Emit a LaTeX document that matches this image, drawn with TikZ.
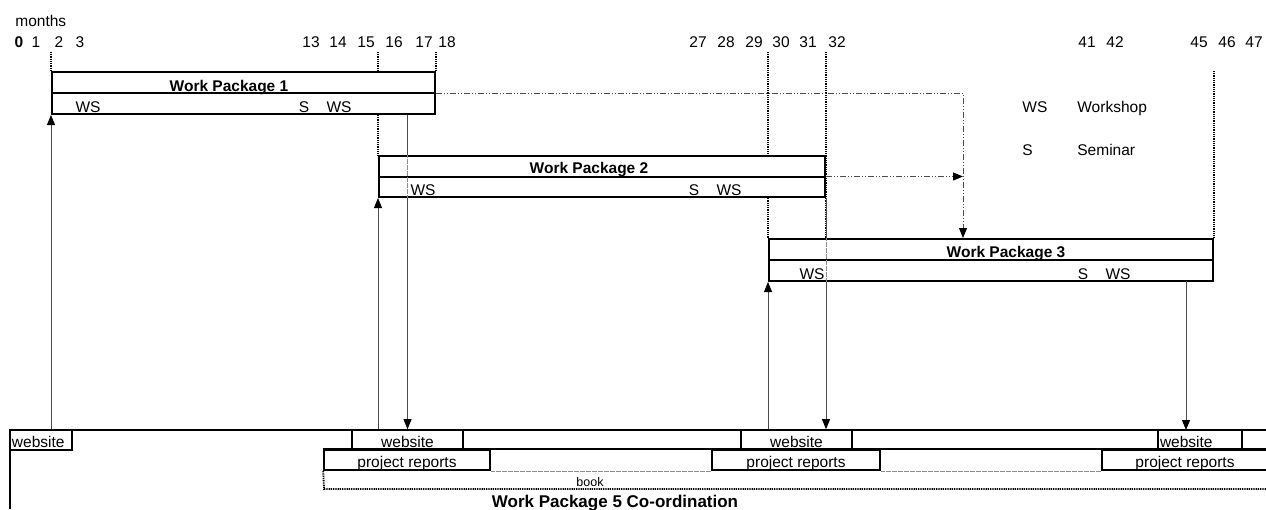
\documentclass[tikz,border=0pt]{standalone}
\usepackage{fontspec}
\setmainfont{Liberation Sans}
\usetikzlibrary{arrows.meta,backgrounds}

\tikzset{every picture/.style={line width=0.75pt}}
\tikzset{
  wpbox/.style={draw, line width=2pt, fill=white, inner sep=0pt},
  cell/.style={draw, line width=1.6pt, inner sep=0pt, minimum height=20pt, text height=14pt, text depth=0pt, font=\fontsize{15.5}{18}\selectfont},
  lbl/.style={inner sep=0pt, font=\fontsize{15.5}{18}\selectfont},
  ttl/.style={inner sep=0pt, font=\fontsize{15.5}{18}\selectfont\bfseries},
  tickline/.style={line width=1.8pt, dash pattern=on 1pt off 0.8pt},
  link/.style={draw=black!70, line width=0.9pt},
  ghost/.style={draw=black!45, line width=0.6pt, dash pattern=on 0.6pt off 0.6pt},
  flow/.style={draw=black!70, line width=0.9pt, dash pattern=on 6pt off 2pt on 1pt off 2pt on 1pt off 2pt},
  tip/.style={-{Triangle[length=10pt,width=8pt,color=black]}},
}

\begin{document}
\begin{tikzpicture}[x=1pt,y=1pt,yscale=-1]
\useasboundingbox (0,0) rectangle (1266,509);

% Text Node
\node[lbl, anchor=base west] (months) at (15,26) {months};
% Text Node
\node[ttl, anchor=base] (m0) at (19,47) {0};
\foreach \m/\x in {1/36, 2/59, 3/80, 13/311, 14/338, 15/366, 16/394, 17/424, 18/447,
                   27/698, 28/726, 29/754, 30/781, 31/808, 32/837, 41/1087, 42/1115,
                   45/1199, 46/1227, 47/1254}
  \node[lbl, anchor=base] (m\m) at (\x,47) {\m};
\coordinate (top) at (0,52);
\coordinate (hub) at (963,0);

%Shape: Rectangle
\node[wpbox, minimum width=383pt, minimum height=42pt] (wpa) at (243.5,93) {};
\draw[line width=2pt] (wpa.west) -- (wpa.east);
%Shape: Rectangle
\node[wpbox, minimum width=446pt, minimum height=41pt] (wpb) at (602,176.5) {};
\draw[line width=2pt] (wpb.west) -- (wpb.east);
%Shape: Rectangle
\node[wpbox, minimum width=444pt, minimum height=42pt] (wpc) at (991,260) {};
\draw[line width=2pt] (wpc.west) -- (wpc.east);

% Text Node
\node[ttl, anchor=base] (wpat) at (229,91) {Work Package 1};
\node[lbl, anchor=base] (wpaw) at (88,112) {WS};
\node[lbl, anchor=base] (wpas) at (304,112) {S};
\node[lbl, anchor=base] (wpax) at (339,112) {WS};
% Text Node
\node[ttl, anchor=base] (wpbt) at (589,173) {Work Package 2};
\node[lbl, anchor=base] (wpbw) at (423,195) {WS};
\node[lbl, anchor=base] (wpbs) at (694,195) {S};
\node[lbl, anchor=base] (wpbx) at (729,195) {WS};
% Text Node
\node[ttl, anchor=base] (wpct) at (1006,257) {Work Package 3};
\node[lbl, anchor=base] (wpcw) at (812,279) {WS};
\node[lbl, anchor=base] (wpcs) at (1083,279) {S};
\node[lbl, anchor=base] (wpcx) at (1118,279) {WS};

% Text Node
\node[lbl, anchor=base west] (keyw) at (1022,112) {WS};
\node[lbl, anchor=base west] (keywt) at (1077,112) {Workshop};
\node[lbl, anchor=base west] (keys) at (1022,155) {S};
\node[lbl, anchor=base west] (keyst) at (1077,155) {Seminar};

%Shape: Rectangle
\node[cell, minimum width=62pt, text width=58pt, align=left] (siteA) at (41,440) {website};
\node[cell, minimum width=111pt] (siteB) at (407.5,440) {website};
\node[cell, minimum width=111pt] (siteC) at (796.5,440) {website};
\node[cell, minimum width=84pt, text width=80pt, align=left] (siteD) at (1200,440) {website};
%Shape: Rectangle
\node[cell, minimum width=166pt] (rptA) at (407,460) {project reports};
\node[cell, minimum width=168pt] (rptB) at (796,460) {project reports};
\node[cell, minimum width=166pt] (rptC) at (1185,460) {project reports};
%Straight Lines
\draw[line width=1.6pt] (1266,430) -| (10,509);
\draw[line width=1.6pt] (rptA.north west) -- (rptC.north east);
\draw[ghost] (rptA.south east) -- (rptB.south west);
\draw[ghost] (rptB.south east) -- (rptC.south west);
\draw[tickline] (rptA.south west) -- (324,489) -- (1266,489);
% Text Node
\node[inner sep=0pt, font=\fontsize{12.5}{14}\selectfont, anchor=base] (book) at (590,486) {book};
\node[inner sep=0pt, font=\fontsize{17}{20}\selectfont\bfseries, anchor=base] (wpet) at (615,507) {Work Package 5 Co-ordination};

\begin{scope}[on background layer]
%Straight Lines
\draw[tickline] (wpa.north west |- top) -- (wpa.north west);
\draw[tickline] (wpb.north west |- top) -- (wpb.north west);
\draw[tickline] (wpa.north east |- top) -- (wpa.north east);
\draw[tickline] (wpc.north west |- top) -- (wpc.north west);
\draw[tickline] (wpb.north east |- top) -- (wpb.east |- wpc.north);
\draw[tickline] (wpc.north east |- wpa.north) -- (wpc.north east);
\end{scope}

%Straight Lines
\draw[link, tip] (wpa.south west |- siteA.north) -- (wpa.south west);
\draw[link] (siteB.north |- wpa.south) -- (siteB.north |- wpb.north);
\draw[ghost] (siteB.north |- wpb.north) -- (siteB.north |- wpb.south);
\draw[link, tip] (siteB.north |- wpb.south) -- (siteB.north);
\draw[link, tip] (wpb.south west |- siteB.north) -- (wpb.south west);
\draw[link] (wpb.south east) -- (wpb.east |- wpc.north);
\draw[ghost] (wpb.east |- wpc.north) -- (wpb.east |- wpc.south);
\draw[link, tip] (wpb.east |- wpc.south) -- (wpb.east |- siteC.north);
\draw[link, tip] (wpc.south west |- siteC.north) -- (wpc.south west);
\draw[link, tip] (1186,281) -- (1186,430);
%Straight Lines
\draw[flow, tip] (wpa.east) -| (hub |- wpc.north);
\draw[flow, tip] (wpb.east) -- (hub |- wpb.east);

\end{tikzpicture}
\end{document}
